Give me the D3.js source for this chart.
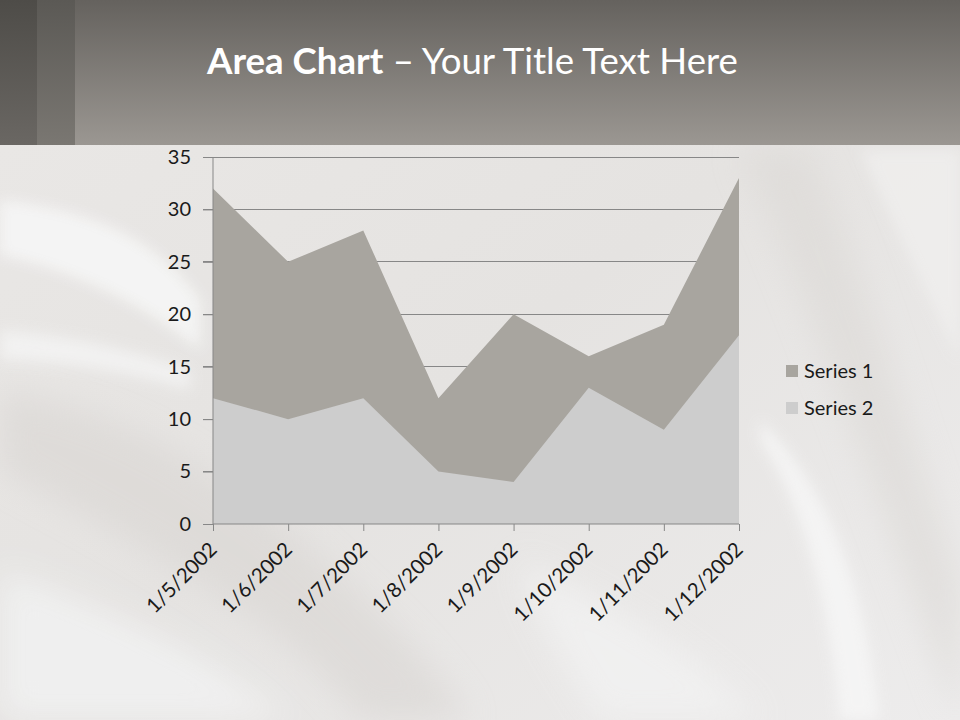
<!DOCTYPE html>
<html><head><meta charset="utf-8">
<script src="https://cdn.jsdelivr.net/npm/d3@7"></script>
<style>html,body{margin:0;padding:0;background:#e8e6e4;}svg{display:block;}</style>
</head><body>
<svg id="chart" width="960" height="720"></svg>
<script>
const categories = ["1/5/2002","1/6/2002","1/7/2002","1/8/2002","1/9/2002","1/10/2002","1/11/2002","1/12/2002"];
const series1 = [32, 25, 28, 12, 20, 16, 19, 33];
const series2 = [12, 10, 12, 5, 4, 13, 9, 18];
const seriesNames = ["Series 1", "Series 2"];
const yTicks = [0, 5, 10, 15, 20, 25, 30, 35];

const FONT = "Lato, 'Open Sans', sans-serif";
const svg = d3.select("#chart");
const defs = svg.append("defs");

// background gradients
const bg = defs.append("linearGradient").attr("id","bg").attr("x1",0).attr("y1",0).attr("x2",1).attr("y2",1);
bg.append("stop").attr("offset",0).attr("stop-color","#eae8e6");
bg.append("stop").attr("offset",0.5).attr("stop-color","#e5e3e1");
bg.append("stop").attr("offset",1).attr("stop-color","#edecec");
const blur = defs.append("filter").attr("id","blur").attr("x","-20%").attr("y","-20%").attr("width","140%").attr("height","140%");
blur.append("feGaussianBlur").attr("stdDeviation",16);
const blur2 = defs.append("filter").attr("id","blur2").attr("x","-20%").attr("y","-20%").attr("width","140%").attr("height","140%");
blur2.append("feGaussianBlur").attr("stdDeviation",7);

const hdr = defs.append("linearGradient").attr("id","hdr").attr("x1",0).attr("y1",0).attr("x2",0).attr("y2",1);
hdr.append("stop").attr("offset",0).attr("stop-color","#65625e");
hdr.append("stop").attr("offset",1).attr("stop-color","#9b9792");
const s1 = defs.append("linearGradient").attr("id","strip1").attr("x1",0).attr("y1",0).attr("x2",0).attr("y2",1);
s1.append("stop").attr("offset",0).attr("stop-color","#4e4c48");
s1.append("stop").attr("offset",1).attr("stop-color","#6a6763");
const s2 = defs.append("linearGradient").attr("id","strip2").attr("x1",0).attr("y1",0).attr("x2",0).attr("y2",1);
s2.append("stop").attr("offset",0).attr("stop-color","#5b5955");
s2.append("stop").attr("offset",1).attr("stop-color","#7a7772");

svg.append("rect").attr("width",960).attr("height",720).attr("fill","url(#bg)");
// silk folds
const folds = svg.append("g");
folds.append("path").attr("d","M0,390 C110,410 190,450 300,540 C380,610 430,660 470,720 L360,720 C310,650 230,590 0,470 Z")
  .attr("fill","#d9d6d3").attr("opacity",0.6).attr("filter","url(#blur)");
folds.append("path").attr("d","M0,200 C80,210 150,230 200,300 L200,350 C140,300 70,270 0,255 Z")
  .attr("fill","#f6f6f6").attr("opacity",0.9).attr("filter","url(#blur2)");
folds.append("path").attr("d","M0,330 C60,335 120,345 190,370 L190,390 C120,370 60,362 0,360 Z")
  .attr("fill","#f4f4f4").attr("opacity",0.8).attr("filter","url(#blur2)");
folds.append("path").attr("d","M0,570 C120,610 220,660 290,720 L0,720 Z")
  .attr("fill","#f1f1f1").attr("opacity",0.9).attr("filter","url(#blur)");
folds.append("path").attr("d","M740,150 C790,260 850,420 900,560 C930,640 950,700 960,720 L960,580 C910,440 870,290 810,150 Z")
  .attr("fill","#dcd9d6").attr("opacity",0.6).attr("filter","url(#blur)");
folds.append("path").attr("d","M860,150 C900,240 940,320 960,360 L960,150 Z")
  .attr("fill","#f0efee").attr("opacity",0.8).attr("filter","url(#blur2)");
folds.append("path").attr("d","M520,560 C600,600 700,650 760,720 L600,720 C560,660 530,610 520,560 Z")
  .attr("fill","#f2f2f2").attr("opacity",0.8).attr("filter","url(#blur)");
folds.append("path").attr("d","M760,420 C820,480 860,560 880,720 L840,720 C830,600 800,500 760,440 Z")
  .attr("fill","#f7f7f7").attr("opacity",0.8).attr("filter","url(#blur2)");

// header
svg.append("rect").attr("x",0).attr("y",0).attr("width",960).attr("height",145).attr("fill","url(#hdr)");
svg.append("rect").attr("x",37).attr("y",0).attr("width",38).attr("height",145).attr("fill","url(#strip2)");
svg.append("rect").attr("x",0).attr("y",0).attr("width",37).attr("height",145).attr("fill","url(#strip1)");

const title = svg.append("text").attr("x",207).attr("y",74).attr("fill","#ffffff")
  .attr("font-family",FONT).attr("font-size",32);
title.append("tspan").attr("font-weight","bold").text("Area Chart");
title.append("tspan").text(" \u2013 Your Title Text Here");
{
  const w = title.node().getComputedTextLength();
  const target = 531;
  title.attr("font-size", 32 * target / w);
}

// chart scales
const x = d3.scalePoint().domain(categories).range([213, 739]);
const y = d3.scaleLinear().domain([0, 35]).range([524, 157]);

const gridColor = "#878787";
// gridlines
svg.append("g").selectAll("line").data(yTicks.filter(d=>d>0)).join("line")
  .attr("x1",203).attr("x2",739).attr("y1",d=>y(d)).attr("y2",d=>y(d))
  .attr("stroke",gridColor).attr("stroke-width",1).attr("shape-rendering","crispEdges");

const area = (vals) => d3.area().x((d,i)=>x(categories[i])).y0(y(0)).y1(d=>y(d))(vals);
svg.append("path").attr("d",area(series1)).attr("fill","#a8a59f");
svg.append("path").attr("d",area(series2)).attr("fill","#cdcdcd");

// y axis
const yAxis = svg.append("g").attr("transform","translate(213,0)")
  .call(d3.axisLeft(y).tickValues(yTicks).tickSize(10).tickPadding(12));
yAxis.select(".domain").attr("stroke",gridColor).attr("d","M0,157V524");
yAxis.selectAll(".tick line").attr("stroke",gridColor);
yAxis.selectAll("text").attr("font-family",FONT).attr("font-size",20).attr("fill","#1a1a1a");

// x axis
const xAxis = svg.append("g").attr("transform","translate(0,524)")
  .call(d3.axisBottom(x).tickSize(7).tickPadding(4));
xAxis.select(".domain").attr("stroke",gridColor).attr("d","M213,0H739");
xAxis.selectAll(".tick line").attr("stroke",gridColor);
xAxis.selectAll("text").attr("font-family",FONT).attr("font-size",20.5).attr("fill","#1a1a1a")
  .attr("text-anchor","end").attr("dy",0).attr("dx",0)
  .attr("transform","translate(-3,19) rotate(-45)");

// legend
const legColors = ["#a8a59f", "#cdcdcd"];
const leg = svg.append("g");
seriesNames.forEach((n,i)=>{
  const yy = 371 + i*37;
  leg.append("rect").attr("x",786).attr("y",yy-6).attr("width",12).attr("height",12).attr("fill",legColors[i]);
  leg.append("text").attr("x",804).attr("y",yy+7).attr("font-family",FONT).attr("font-size",20)
    .attr("fill","#1a1a1a").text(n);
});
</script>
</body></html>
